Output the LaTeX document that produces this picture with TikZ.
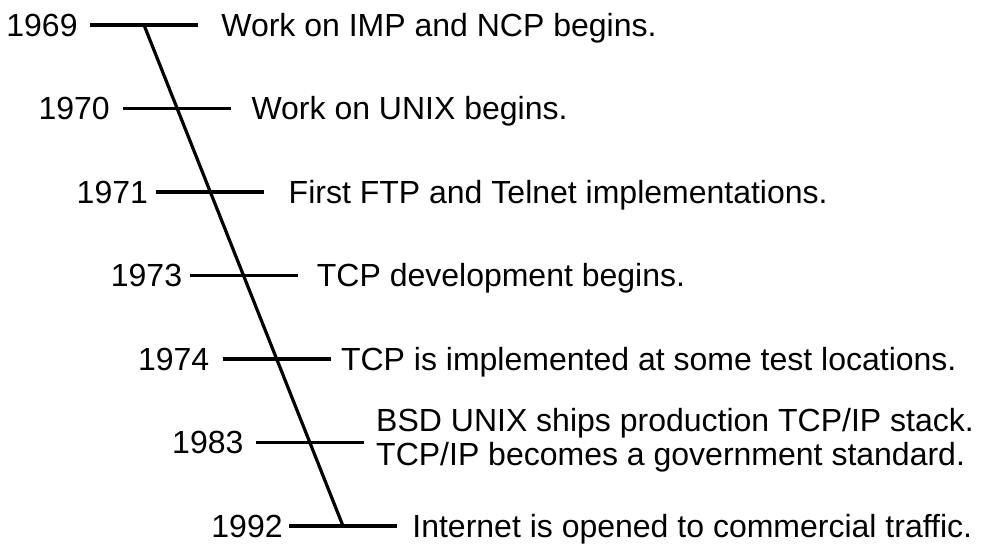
\documentclass[tikz,border=0pt]{standalone}
\usepackage{fontspec}
\setmainfont{Liberation Sans}
\usetikzlibrary{positioning,calc}
\tikzset{
  spine/.style  ={line width=1.6pt},
  tickln/.style ={line width=1.6pt},
  yr/.style     ={inner sep=0pt, font=\fontsize{16}{17}\selectfont},
  evt/.style    ={inner sep=0pt, align=left, font=\fontsize{16}{17}\selectfont},
  onbase/.style ={anchor=base west, yshift=-5.7pt},
}
\begin{document}
\begin{tikzpicture}[x=0.5pt,y=-0.5pt]
  \useasboundingbox (0,0) rectangle (983,544);
  % --- the slanted time axis ---
  \coordinate (top) at (144,25);
  \coordinate (bot) at (343,526);
  \draw[spine] (top) -- (bot);
  % --- one tick per year, centred on the axis ---
  \foreach \k in {0,...,6}{
    \coordinate (m\k) at ($(top)!\k/6!(bot)$);
    \coordinate (l\k) at ([xshift=-27pt]m\k);
    \coordinate (r\k) at ([xshift=27pt]m\k);
    \draw[tickln] (l\k) -- (r\k);
  }
  % --- years ---
  \node[yr, left=6pt of l0]   (y1969){1969};
  \node[yr, left=6.5pt of l1] (y1970){1970};
  \node[yr, left=4pt of l2]   (y1971){1971};
  \node[yr, left=3.5pt of l3] (y1973){1973};
  \node[yr, left=6.5pt of l4] (y1974){1974};
  \node[yr, left=6pt of l5]   (y1983){1983};
  \node[yr, left=3pt of l6]   (y1992){1992};
  % --- events ---
  \node[evt, right=11.5pt of r0, onbase] (e1969){Work on IMP and NCP begins.};
  \node[evt, right=10pt of r1, onbase]   (e1970){Work on UNIX begins.};
  \node[evt, right=12pt of r2, onbase]   (e1971){First FTP and Telnet implementations.};
  \node[evt, right=9.5pt of r3, onbase]  (e1973){TCP development begins.};
  \node[evt, right=5pt of r4, onbase]    (e1974){TCP is implemented at some test locations.};
  \node[evt, right=6pt of r5, yshift=1pt] (e1983){BSD UNIX ships production TCP/IP stack.\\TCP/IP becomes a government standard.};
  \node[evt, right=7.5pt of r6, onbase]  (e1992){Internet is opened to commercial traffic.};
\end{tikzpicture}
\end{document}
